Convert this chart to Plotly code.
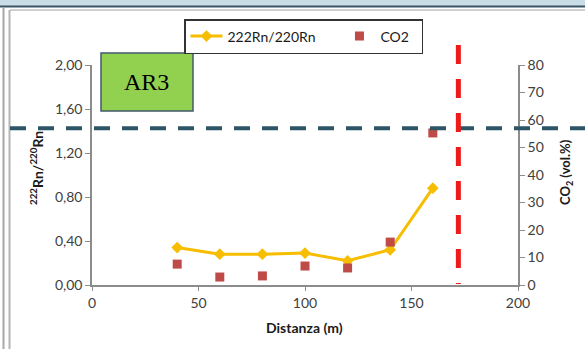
import plotly.graph_objects as go

# Sampling points along the profile (m)
distanza = [40, 60, 80, 100, 120, 140, 160]
# 222Rn/220Rn ratio (left axis)
rn_ratio = [0.34, 0.28, 0.28, 0.29, 0.22, 0.32, 0.88]
# Soil CO2 concentration, vol.% (right axis)
co2 = [7.6, 2.9, 3.3, 6.9, 6.2, 15.6, 55.3]

left_ticks = [0.0, 0.4, 0.8, 1.2, 1.6, 2.0]
right_ticks = [0, 10, 20, 30, 40, 50, 60, 70, 80]
x_ticks = [0, 50, 100, 150, 200]

fault_x = 172      # vertical marker along the profile (m)
threshold_co2 = 57  # horizontal reference level (vol.%)

# plot area in pixels
W, H = 585, 349
L, R, T, B = 92, 518, 65, 285


def px(x):
    return (x - L) / (R - L)


def py(y):
    return (B - y) / (B - T)


font = "Lato, 'Open Sans', sans-serif"
tick_col = "#404040"
axis_col = "#8c8c8c"
nbsp = "\u00a0"

fig = go.Figure()
fig.add_trace(go.Scatter(
    x=distanza, y=rn_ratio, name="222Rn/220Rn" + nbsp * 5, mode="lines+markers",
    line=dict(color="#f7bd00", width=3),
    marker=dict(symbol="diamond", size=9, color="#f7bd00"),
    yaxis="y",
))
fig.add_trace(go.Scatter(
    x=distanza, y=co2, name="CO2" + nbsp * 2, mode="markers",
    marker=dict(symbol="square", size=9, color="#be4b48"),
    yaxis="y2",
))

shapes = [
    # window frame: top band and lines
    dict(type="rect", xref="paper", yref="paper", x0=px(0), x1=px(W),
         y0=py(6), y1=py(-2), fillcolor="#c8dde6", line=dict(width=0), layer="below"),
    dict(type="line", xref="paper", yref="paper", x0=px(0), x1=px(W),
         y0=py(6.5), y1=py(6.5), line=dict(color="#3b5766", width=2)),
    dict(type="line", xref="paper", yref="paper", x0=px(10), x1=px(W),
         y0=py(10), y1=py(10), line=dict(color="#d0d0d0", width=2)),
    dict(type="line", xref="paper", yref="paper", x0=px(3.5), x1=px(3.5),
         y0=py(7), y1=py(H + 2), line=dict(color="#a8a8a8", width=2)),
    dict(type="line", xref="paper", yref="paper", x0=px(9.5), x1=px(9.5),
         y0=py(10), y1=py(H + 2), line=dict(color="#b4b4b4", width=2)),
    # horizontal dashed reference level
    dict(type="line", xref="paper", yref="y2", x0=px(10), x1=px(W + 2),
         y0=threshold_co2, y1=threshold_co2,
         line=dict(color="#2c5566", width=4, dash="16px,12px")),
    # vertical dashed red marker
    dict(type="line", xref="x", yref="paper", x0=fault_x, x1=fault_x,
         y0=py(45), y1=py(284),
         line=dict(color="#ee1b1b", width=5, dash="19px,15px")),
    # AR3 label box
    dict(type="rect", xref="paper", yref="paper", x0=px(101), x1=px(193),
         y0=py(111), y1=py(53), fillcolor="#92d050",
         line=dict(color="#41596b", width=1.5)),
]

annotations = [
    dict(text="AR3", xref="paper", yref="paper", x=px(146), y=py(82),
         xanchor="center", yanchor="middle", showarrow=False,
         font=dict(family="'Liberation Serif', serif", size=24, color="#000")),
    dict(text="<b>Distanza (m)</b>", xref="paper", yref="paper", x=px(304), y=py(327),
         showarrow=False, font=dict(family=font, size=14, color="#1a1a1a"),
         xanchor="center", yanchor="middle"),
    dict(text="<b><sup>222</sup>Rn/<sup>220</sup>Rn</b>", xref="paper", yref="paper",
         x=px(36), y=py(168), xanchor="center", yanchor="middle",
         textangle=-90, showarrow=False,
         font=dict(family=font, size=14, color="#1a1a1a")),
    dict(text="<b>CO<sub>2</sub> (vol.%)</b>", xref="paper", yref="paper",
         x=px(566), y=py(172), xanchor="center", yanchor="middle",
         textangle=-90, showarrow=False,
         font=dict(family=font, size=13, color="#1a1a1a")),
]

fig.update_layout(
    width=W, height=H,
    margin=dict(l=L, r=W - R, t=T, b=H - B, pad=0),
    paper_bgcolor="white", plot_bgcolor="white",
    separators=",.",
    font=dict(family=font, size=14, color=tick_col),
    showlegend=True,
    legend=dict(orientation="h", x=px(184), y=py(19), xanchor="left", yanchor="top",
                bordercolor="#333", borderwidth=1.5, bgcolor="white",
                font=dict(family=font, size=14, color="#1a1a1a"),
                itemwidth=32, tracegroupgap=0),
    xaxis=dict(range=[0, 200], tickvals=x_ticks, showgrid=False, zeroline=False,
               showline=True, linecolor=axis_col, linewidth=1.5,
               ticks="outside", ticklen=4, tickcolor=axis_col,
               tickfont=dict(family=font, size=14, color=tick_col)),
    yaxis=dict(range=[0, 2.0], tickvals=left_ticks, tickformat=".2f", showgrid=False,
               zeroline=False, showline=True, linecolor=axis_col, linewidth=1.5,
               ticks="outside", ticklen=5, tickcolor=axis_col,
               tickfont=dict(family=font, size=14, color=tick_col)),
    yaxis2=dict(range=[0, 80], tickvals=right_ticks, overlaying="y", side="right",
                showgrid=False, zeroline=False, showline=True, linecolor=axis_col,
                linewidth=1.5, ticks="outside", ticklen=5, tickcolor=axis_col,
                tickfont=dict(family=font, size=14, color=tick_col)),
    shapes=shapes,
    annotations=annotations,
)

fig.write_html("out.html")
